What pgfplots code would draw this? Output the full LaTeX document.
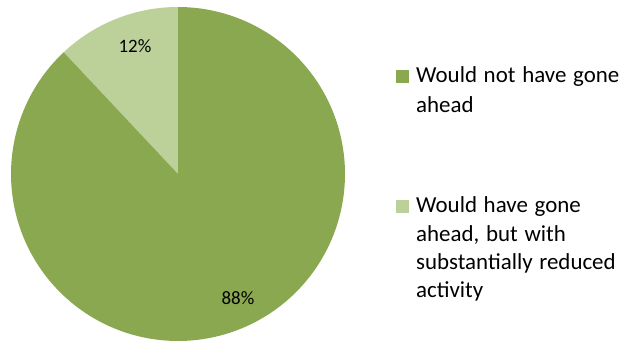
\documentclass[border=0pt]{standalone}
\usepackage{fontspec}
\setmainfont[WordSpace=1.3]{Carlito}
\usepackage{pgfplots}
\pgfplotsset{compat=1.18}
\definecolor{darkg}{HTML}{8AA84F}
\definecolor{lightg}{HTML}{BCD09A}
\begin{document}
\begin{tikzpicture}
\def\vA{88}
\def\vB{12}
\pgfmathsetmacro{\aStart}{90}
\pgfmathsetmacro{\aMid}{90+\vB*3.6}
\pgfmathsetmacro{\aEnd}{90+360}
\begin{axis}[
  width=623bp, height=341bp, scale only axis,
  xmin=0, xmax=623, ymin=0, ymax=341,
  hide axis, clip=false,
]
\path (axis cs:0,0) rectangle (axis cs:623,341);
% 12% slice
\addplot[fill=lightg, draw=none, domain=\aStart:\aMid, samples=40, variable=\t]
  ({178+167*cos(\t)}, {167+167*sin(\t)}) -- (axis cs:178,167) -- cycle;
% 88% slice
\addplot[fill=darkg, draw=none, domain=\aMid:\aEnd, samples=200, variable=\t]
  ({178+167*cos(\t)}, {167+167*sin(\t)}) -- (axis cs:178,167) -- cycle;
% data labels
\node[font=\fontsize{19}{21}\selectfont] at (axis cs:135,295) {\vB\%};
\node[font=\fontsize{19}{21}\selectfont] at (axis cs:238,43) {\vA\%};
% legend
\fill[darkg] (axis cs:396,258) rectangle (axis cs:409,271);
\fill[lightg] (axis cs:396,128) rectangle (axis cs:409,141);
\begin{scope}[every node/.style={anchor=base west, inner sep=0pt, font=\fontsize{23}{26}\selectfont}]
\node at (axis cs:416,258) {Would not have gone};
\node at (axis cs:416,228) {ahead};
\node at (axis cs:416,128) {Would have gone};
\node at (axis cs:416,99) {ahead, but with};
\node at (axis cs:416,71) {substantially reduced};
\node at (axis cs:416,43) {activity};
\end{scope}
\end{axis}
\end{tikzpicture}
\end{document}
